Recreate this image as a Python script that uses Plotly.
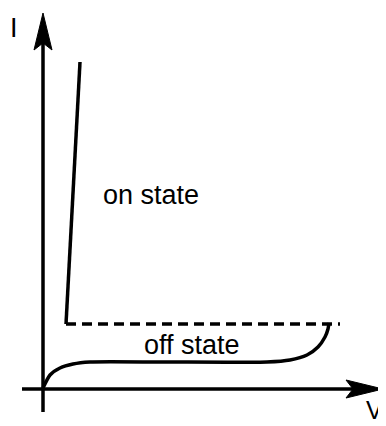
import plotly.graph_objects as go

# --- data (schematic I-V characteristic, units: voltage V, current I) ---
on_v = [37, 23]
on_i = [327, 65]

dash_v = [23, 297]
dash_i = [65, 65]

off_v = [0, 7, 17, 30, 47, 120, 224, 247, 264, 275, 282, 285, 286]
off_i = [1, 14, 21, 25, 27, 27, 27, 29, 34, 42, 52, 60, 66]

axis_v_min, axis_v_max = -21, 340
axis_i_min, axis_i_max = -23, 376

labels = ["on state", "off state"]
label_v = [108, 149]
label_i = [194, 44]

# --- style ---
LW = 3.5
HEAD_LEN, HEAD_HALF, NOTCH = 37, 9, 7
FONT = "Liberation Sans, Arial, Helvetica, sans-serif"

fig = go.Figure()

# axes lines
fig.add_trace(go.Scatter(x=[0, 0], y=[axis_i_min, axis_i_max - HEAD_LEN + NOTCH],
                         mode="lines", line=dict(color="black", width=LW), hoverinfo="skip"))
fig.add_trace(go.Scatter(x=[axis_v_min, axis_v_max - HEAD_LEN + NOTCH], y=[0, 0],
                         mode="lines", line=dict(color="black", width=LW), hoverinfo="skip"))

# arrowheads computed from the axis tips
tv = axis_i_max
fig.add_trace(go.Scatter(
    x=[0, -HEAD_HALF, 0, HEAD_HALF, 0],
    y=[tv, tv - HEAD_LEN, tv - HEAD_LEN + NOTCH, tv - HEAD_LEN, tv],
    mode="lines", fill="toself", fillcolor="black",
    line=dict(color="black", width=1), hoverinfo="skip"))
th = axis_v_max
fig.add_trace(go.Scatter(
    x=[th, th - HEAD_LEN, th - HEAD_LEN + NOTCH, th - HEAD_LEN, th],
    y=[0, HEAD_HALF, 0, -HEAD_HALF, 0],
    mode="lines", fill="toself", fillcolor="black",
    line=dict(color="black", width=1), hoverinfo="skip"))

# on-state line
fig.add_trace(go.Scatter(x=on_v, y=on_i, mode="lines",
                         line=dict(color="black", width=LW), hoverinfo="skip"))
# dashed holding-current line
fig.add_trace(go.Scatter(x=dash_v, y=dash_i, mode="lines",
                         line=dict(color="black", width=LW, dash="10px,6px"), hoverinfo="skip"))
# off-state curve
fig.add_trace(go.Scatter(x=off_v, y=off_i, mode="lines",
                         line=dict(color="black", width=LW, shape="spline", smoothing=0.6),
                         hoverinfo="skip"))

# labels
for t, vx, iy in zip(labels, label_v, label_i):
    fig.add_annotation(x=vx, y=iy, text=t, showarrow=False,
                       font=dict(family=FONT, size=27, color="black"))
fig.add_annotation(x=-29, y=361, text="I", showarrow=False,
                   font=dict(family=FONT, size=27, color="black"))
fig.add_annotation(x=331, y=-21, text="V", showarrow=False,
                   font=dict(family=FONT, size=25, color="black"))

# the page body adds an 8px margin, so the figure is sized/ranged to compensate
fig.update_layout(
    width=378, height=418,
    margin=dict(l=0, r=0, t=0, b=0),
    paper_bgcolor="white", plot_bgcolor="white",
    showlegend=False,
    xaxis=dict(range=[-35, 343], visible=False, fixedrange=True),
    yaxis=dict(range=[-37, 381], visible=False, fixedrange=True),
)

fig.write_html("out.html")
